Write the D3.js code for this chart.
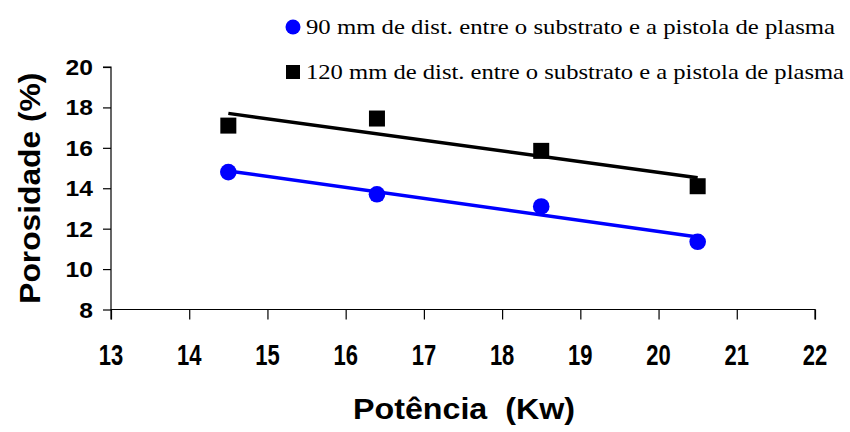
<!DOCTYPE html>
<html>
<head>
<meta charset="utf-8">
<script src="https://cdn.jsdelivr.net/npm/d3@7"></script>
<style>
  html, body { margin: 0; padding: 0; background: #fff; }
  svg { display: block; }
</style>
</head>
<body>
<svg id="chart" width="850" height="432"></svg>
<script>
// Plasma power (kW) for each spraying run
const potencia = [14.5, 16.4, 18.5, 20.5];
// Porosity (%) at 90 mm stand-off distance
const porosidade90 = [14.8, 13.7, 13.1, 11.35];
// Porosity (%) at 120 mm stand-off distance
const porosidade120 = [17.1, 17.45, 15.85, 14.1];
// Axis ticks
const xTicks = [13, 14, 15, 16, 17, 18, 19, 20, 21, 22];
const yTicks = [8, 10, 12, 14, 16, 18, 20];
const legendLabels = [
  "90 mm de dist. entre o substrato e a pistola de plasma",
  "120 mm de dist. entre o substrato e a pistola de plasma"
];

const svg = d3.select("#chart");
const x = d3.scaleLinear().domain([13, 22]).range([111, 815]);
const y = d3.scaleLinear().domain([8, 20]).range([309.5, 67]);

// Least-squares trend line over the measured range
function fit(xs, ys) {
  const mx = d3.mean(xs), my = d3.mean(ys);
  const sxy = d3.sum(xs, (v, i) => (v - mx) * (ys[i] - my));
  const sxx = d3.sum(xs, v => (v - mx) ** 2);
  const b = sxy / sxx, a = my - b * mx;
  const x0 = d3.min(xs), x1 = d3.max(xs);
  return [[x0, a + b * x0], [x1, a + b * x1]];
}

// Axes
const xAxis = svg.append("g")
  .attr("transform", `translate(0,${y(8)})`)
  .call(d3.axisBottom(x).tickValues(xTicks).tickSize(10).tickFormat(d3.format("d")));
xAxis.select(".domain").attr("d", `M${x(13)},10V0H${x(22)}V10`);
xAxis.selectAll("text").remove();

const yAxis = svg.append("g")
  .attr("transform", `translate(${x(13)},0)`)
  .call(d3.axisLeft(y).tickValues(yTicks).tickSize(8).tickFormat(d3.format("d")));
yAxis.select(".domain").attr("d", `M-8,${y(20)}H0V${y(8)}`);
yAxis.selectAll("text").remove();
svg.selectAll(".domain, .tick line").attr("stroke", "#000").attr("stroke-width", 1.2);

const sans = "Liberation Sans, Arial, sans-serif";

// Tick labels
svg.append("g").selectAll("text").data(yTicks).join("text")
  .attr("transform", d => `translate(93,${y(d) + 8}) scale(1.12,1)`)
  .attr("text-anchor", "end")
  .attr("font-family", sans)
  .attr("font-weight", "bold").attr("font-size", 22)
  .text(d => d);

svg.append("g").selectAll("text").data(xTicks).join("text")
  .attr("transform", d => `translate(${x(d)},365) scale(1,1.3)`)
  .attr("text-anchor", "middle")
  .attr("font-family", sans)
  .attr("font-weight", "bold").attr("font-size", 22)
  .text(d => d);

// Axis titles
svg.append("text")
  .attr("transform", `translate(40,${(y(8) + y(20)) / 2}) rotate(-90)`)
  .attr("text-anchor", "middle")
  .attr("font-family", sans)
  .attr("font-weight", "bold").attr("font-size", 30)
  .attr("textLength", 231).attr("lengthAdjust", "spacingAndGlyphs")
  .text("Porosidade (%)");

svg.append("text")
  .attr("x", 464).attr("y", 419)
  .attr("text-anchor", "middle")
  .attr("font-family", sans)
  .attr("font-weight", "bold").attr("font-size", 29)
  .attr("textLength", 222).attr("lengthAdjust", "spacingAndGlyphs")
  .attr("xml:space", "preserve")
  .text("Potência  (Kw)");

// Trend lines
const line = d3.line().x(d => x(d[0])).y(d => y(d[1]));
svg.append("path").datum(fit(potencia, porosidade120))
  .attr("d", line).attr("stroke", "#000").attr("stroke-width", 3.5).attr("fill", "none");
svg.append("path").datum(fit(potencia, porosidade90))
  .attr("d", line).attr("stroke", "#0000ff").attr("stroke-width", 3.5).attr("fill", "none");

// Markers
svg.append("g").selectAll("rect").data(potencia).join("rect")
  .attr("x", d => x(d) - 8).attr("y", (d, i) => y(porosidade120[i]) - 8)
  .attr("width", 16).attr("height", 16).attr("fill", "#000");
svg.append("g").selectAll("circle").data(potencia).join("circle")
  .attr("cx", d => x(d)).attr("cy", (d, i) => y(porosidade90[i]))
  .attr("r", 8.3).attr("fill", "#0000ff");

// Legend
const legend = svg.append("g");
legend.append("circle").attr("cx", 293).attr("cy", 27).attr("r", 7.5).attr("fill", "#0000ff");
legend.append("rect").attr("x", 286).attr("y", 65).attr("width", 14).attr("height", 14).attr("fill", "#000");
legend.selectAll("text").data(legendLabels).join("text")
  .attr("x", 306).attr("y", (d, i) => 34 + i * 45)
  .attr("font-family", "Liberation Serif, Times New Roman, serif")
  .attr("font-size", 21)
  .attr("textLength", (d, i) => i === 0 ? 529 : 538)
  .attr("lengthAdjust", "spacingAndGlyphs")
  .text(d => d);
</script>
</body>
</html>
